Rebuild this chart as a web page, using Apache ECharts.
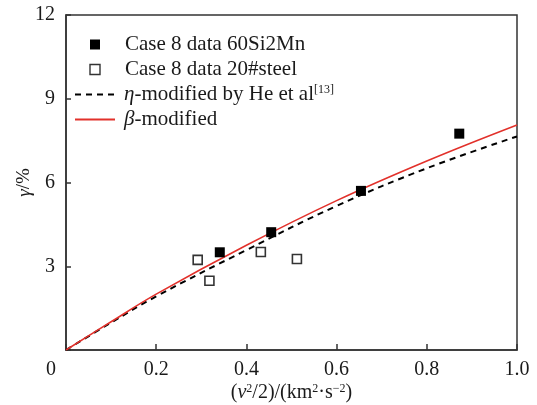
<!DOCTYPE html>
<html>
<head>
<meta charset="utf-8">
<script src="https://cdn.jsdelivr.net/npm/echarts@6/dist/echarts.min.js"></script>
<style>html,body{margin:0;padding:0;background:#fff;}#c{width:537px;height:405px;}</style>
</head>
<body>
<div id="c"></div>
<script>
// ---- data ----
var seriesNames = ['Case 8 data 60Si2Mn', 'Case 8 data 20#steel', 'eta', 'beta'];
var si2mnPoints = [[0.341, 3.50], [0.455, 4.22], [0.654, 5.70], [0.872, 7.75]];
var steelPoints = [[0.292, 3.23], [0.318, 2.48], [0.432, 3.51], [0.512, 3.26]];
var curveX = [0, 0.1, 0.2, 0.4, 0.6, 0.8, 1.0];
var etaY = [0, 0.98, 1.92, 3.58, 5.16, 6.51, 7.65];
var betaY = [0, 1.01, 2.00, 3.75, 5.35, 6.77, 8.06];
var xTickValues = [0, 0.2, 0.4, 0.6, 0.8, 1.0];
var xTickLabels = ['0', '0.2', '0.4', '0.6', '0.8', '1.0'];
var yTickValues = [0, 3, 6, 9, 12];
var yTickLabels = ['', '3', '6', '9', '12'];

function zip(xs, ys) { return xs.map(function (x, i) { return [x, ys[i]]; }); }
var legendText = {
  'Case 8 data 60Si2Mn': '{t0|Case 8 data 60Si2Mn}',
  'Case 8 data 20#steel': '{t0|Case 8 data 20#steel}',
  'eta': '{i|η}{t|-modified by He et al}{sup|[13]}',
  'beta': '{i|β}{t|-modified}'
};
var FONT = 'Liberation Serif';
var TXT = '#1a1a1a';
var LF = 21;
var squareIcon = 'path://M0,0 L10,0 L10,10 L0,10 Z';
var chart = echarts.init(document.getElementById('c'), null, {renderer: 'canvas'});
chart.setOption({
  animation: false,
  backgroundColor: '#fff',
  grid: {left: 66, right: 20, top: 15, bottom: 55, containLabel: false, outerBoundsMode: 'none',
         show: true, borderColor: '#333', borderWidth: 1.5, backgroundColor: 'transparent'},
  legend: {
    orient: 'vertical', left: 69, top: 29, itemGap: 4, itemWidth: 40, itemHeight: 10,
    symbolKeepAspect: true,
    data: [
      {name: seriesNames[0], icon: squareIcon, itemStyle: {color: '#000', opacity: 1}},
      {name: seriesNames[1], icon: squareIcon, itemStyle: {color: '#fff', borderColor: '#333', borderWidth: 1.4, opacity: 1}},
      {name: seriesNames[2], itemStyle: {opacity: 0}},
      {name: seriesNames[3], itemStyle: {opacity: 0}}
    ],
    formatter: function (n) { return legendText[n]; },
    textStyle: {
      fontFamily: FONT, fontSize: LF, color: TXT, lineHeight: LF,
      rich: {
        t0: {fontFamily: FONT, fontSize: LF, color: TXT, lineHeight: LF, padding: [0, 0, 0, 5]},
        t: {fontFamily: FONT, fontSize: LF, color: TXT, lineHeight: LF},
        i: {fontFamily: FONT, fontSize: LF, fontStyle: 'italic', color: TXT, lineHeight: LF, padding: [0, 0, 0, 4]},
        sup: {fontFamily: FONT, fontSize: 12, color: TXT, lineHeight: LF, verticalAlign: 'top', padding: [0, 0, 7, 0]}
      }
    }
  },
  xAxis: {
    type: 'value', min: 0, max: 1, interval: 0.2,
    axisLine: {lineStyle: {color: '#333', width: 1.5}},
    axisTick: {inside: true, length: 6, lineStyle: {color: '#333', width: 1.5}},
    splitLine: {show: false},
    axisLabel: {
      margin: 10, color: TXT, fontFamily: FONT, fontSize: 20, hideOverlap: false,
      formatter: function (v) {
        var idx = xTickValues.findIndex(function (t) { return Math.abs(t - v) < 1e-6; });
        var s = idx >= 0 ? xTickLabels[idx] : '';
        return idx === 0 ? '{o|' + s + '}' : s;
      },
      rich: {o: {fontFamily: FONT, fontSize: 20, color: TXT, padding: [0, 30, 0, 0]}}
    },
    name: '{t|(}{i|v}{sup|2}{t|/2)/(km}{sup|2}{t|·s}{sup|−2}{t|)}',
    nameLocation: 'middle', nameGap: 33, nameMoveOverlap: false,
    nameTextStyle: {
      rich: {
        t: {fontFamily: FONT, fontSize: 20, color: TXT},
        i: {fontFamily: FONT, fontSize: 20, color: TXT, fontStyle: 'italic'},
        sup: {fontFamily: FONT, fontSize: 12, color: TXT, verticalAlign: 'top', padding: [0, 0, 7, 0]}
      }
    }
  },
  yAxis: {
    type: 'value', min: 0, max: 12, interval: 3,
    axisLine: {lineStyle: {color: '#333', width: 1.5}},
    axisTick: {inside: true, length: 5, lineStyle: {color: '#333', width: 1.5}},
    splitLine: {show: false},
    axisLabel: {
      margin: 11, color: TXT, fontFamily: FONT, fontSize: 20,
      formatter: function (v) {
        var idx = yTickValues.indexOf(v);
        return idx >= 0 ? yTickLabels[idx] : '';
      }
    },
    name: '{i|γ}{t|/%}',
    nameLocation: 'middle', nameGap: 32, nameRotate: 90, nameMoveOverlap: false,
    nameTextStyle: {
      rich: {
        t: {fontFamily: FONT, fontSize: 19, color: TXT},
        i: {fontFamily: FONT, fontSize: 19, color: TXT, fontStyle: 'italic'}
      }
    }
  },
  series: [
    {name: seriesNames[0], type: 'scatter', data: si2mnPoints, symbol: 'rect', symbolSize: 10, z: 5,
     itemStyle: {color: '#000', opacity: 1}},
    {name: seriesNames[1], type: 'scatter', data: steelPoints, symbol: 'rect', symbolSize: 9, z: 5,
     itemStyle: {color: '#fff', borderColor: '#333', borderWidth: 1.6, opacity: 1}},
    {name: seriesNames[2], type: 'line', data: zip(curveX, etaY), smooth: 0.4, showSymbol: false, symbol: 'none', z: 3,
     lineStyle: {color: '#000', width: 2, type: [6, 5]}, itemStyle: {color: '#000'}},
    {name: seriesNames[3], type: 'line', data: zip(curveX, betaY), smooth: 0.4, showSymbol: false, symbol: 'none', z: 4,
     lineStyle: {color: '#e2312b', width: 1.6}, itemStyle: {color: '#e2312b'}}
  ]
});
</script>
</body>
</html>
